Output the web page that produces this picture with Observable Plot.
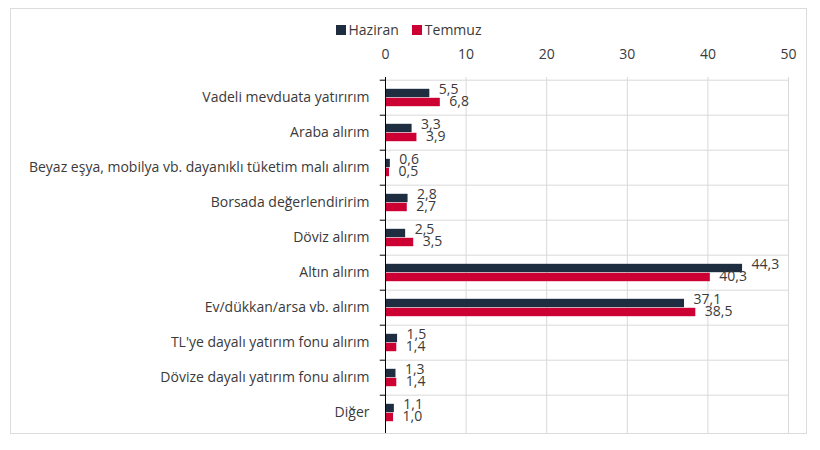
<!DOCTYPE html>
<html>
<head>
<meta charset="utf-8">
<script src="https://cdn.jsdelivr.net/npm/d3@7"></script>
<script src="https://cdn.jsdelivr.net/npm/@observablehq/plot@0.6"></script>
<style>
  html, body { margin: 0; padding: 0; background: #fff; }
  body { width: 820px; height: 450px; position: relative; font-family: "Open Sans", sans-serif; }
  #box { position: absolute; left: 10px; top: 8px; width: 795px; height: 424px; border: 1px solid #dcdcdc; box-sizing: content-box; }
  #legend { position: absolute; left: 0; top: 11px; width: 795px; display: flex; justify-content: center; gap: 13px; font-size: 14px; color: #3a3a3a; }
  #legend span.item { display: flex; align-items: center; }
  #legend span.sw { display: inline-block; width: 10px; height: 10px; margin-right: 3px; }
  #chart { position: absolute; left: 0; top: 31px; }
</style>
</head>
<body>
<div id="box">
  <div id="legend"></div>
  <div id="chart"></div>
</div>
<script>
const categories = [
  "Vadeli mevduata yatırırım",
  "Araba alırım",
  "Beyaz eşya, mobilya vb. dayanıklı tüketim malı alırım",
  "Borsada değerlendiririm",
  "Döviz alırım",
  "Altın alırım",
  "Ev/dükkan/arsa vb. alırım",
  "TL'ye dayalı yatırım fonu alırım",
  "Dövize dayalı yatırım fonu alırım",
  "Diğer"
];
const series = ["Haziran", "Temmuz"];
const haziran = [5.5, 3.3, 0.6, 2.8, 2.5, 44.3, 37.1, 1.5, 1.3, 1.1];
const temmuz  = [6.8, 3.9, 0.5, 2.7, 3.5, 40.3, 38.5, 1.4, 1.4, 1.0];
const xTicks = [0, 10, 20, 30, 40, 50];
const colors = ["#1e2d40", "#cc0033"];

const rows = categories.map((c, i) => ({ cat: c, h: haziran[i], t: temmuz[i] }));
const fmt = v => v.toFixed(1).replace(".", ",");

const W = 795, H = 393, mt = 37, mb = 0, ml = 374, mr = 18;
const b = (H - mt - mb) / categories.length;
const grid = "#d9d9d9";

const legend = document.getElementById("legend");
series.forEach((s, i) => {
  const it = document.createElement("span");
  it.className = "item";
  it.innerHTML = `<span class="sw" style="background:${colors[i]}"></span>${s}`;
  legend.appendChild(it);
});

const chart = Plot.plot({
  width: W,
  height: H,
  marginTop: mt,
  marginBottom: mb,
  marginLeft: ml,
  marginRight: mr,
  style: { fontFamily: "Open Sans, sans-serif", fontSize: "14px", color: "#3a3a3a", background: "transparent", overflow: "visible" },
  x: { domain: [0, 50], axis: "top", ticks: xTicks, tickSize: 0, tickPadding: 19, label: null },
  y: { domain: categories, padding: 0, tickSize: 0, tickPadding: 16, label: null },
  marks: [
    Plot.ruleX(xTicks.slice(1), { stroke: grid, strokeWidth: 1 }),
    Plot.ruleY(categories, { y: d => d, dy: -b / 2, stroke: grid }),
    Plot.barX(rows, { y: "cat", x: "h", fill: colors[0], insetTop: b / 2 - 9, insetBottom: b / 2 }),
    Plot.barX(rows, { y: "cat", x: "t", fill: colors[1], insetTop: b / 2, insetBottom: b / 2 - 9 }),
    Plot.ruleY(categories, { y: d => d, dy: -b / 2, x1: -0.65, x2: 0, stroke: "#000" }),
    Plot.ruleX([0], { stroke: "#000", strokeWidth: 1 }),
    Plot.text(rows, { y: "cat", x: "h", text: d => fmt(d.h), textAnchor: "start", dx: 9, dy: -8.5, fill: "#3a3a3a", fontSize: 14 }),
    Plot.text(rows, { y: "cat", x: "t", text: d => fmt(d.t), textAnchor: "start", dx: 9, dy: 3.5, fill: "#3a3a3a", fontSize: 14 })
  ]
});
document.getElementById("chart").appendChild(chart);
</script>
</body>
</html>
